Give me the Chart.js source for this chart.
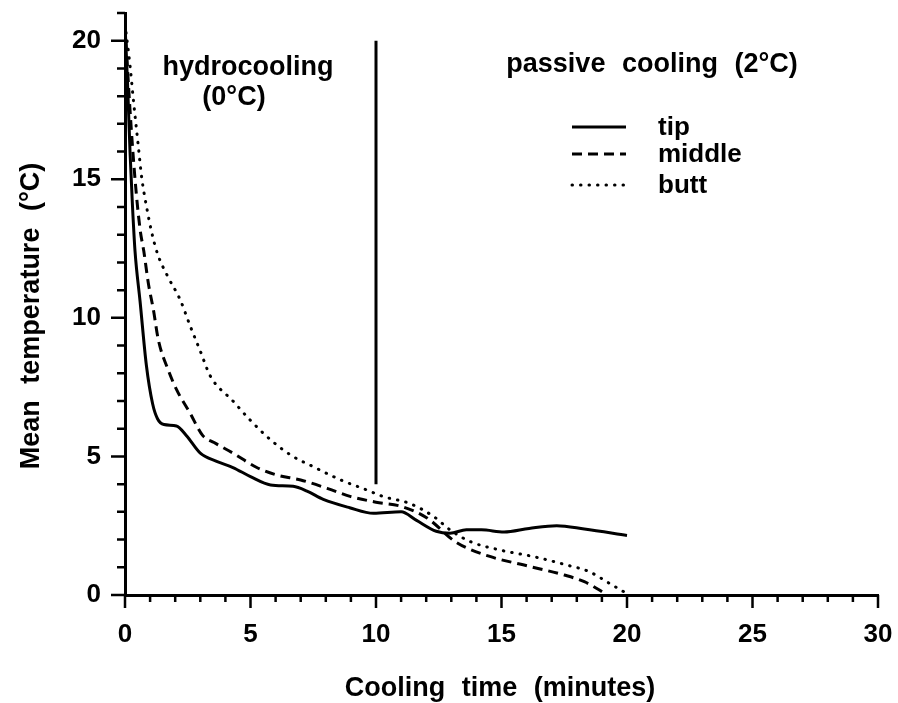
<!DOCTYPE html>
<html>
<head>
<meta charset="utf-8">
<script src="https://cdn.jsdelivr.net/npm/chart.js@4/dist/chart.umd.min.js"></script>
<style>
  html, body { margin: 0; padding: 0; background: #fff; }
  #wrap { width: 898px; height: 703px; }
</style>
</head>
<body>
<div id="wrap"><canvas id="coolChart" width="898" height="703"></canvas></div>
<script>
// Readings: cooling time (min) vs mean temperature (°C)
const tipTime = [0, 0.1, 0.2, 0.3, 0.4, 0.6, 0.85, 1.1, 1.3, 1.55, 2.05, 2.45, 3.0, 3.65, 4.3, 5.0, 5.8, 6.7, 7.25, 7.9, 8.95, 9.9, 11.0, 11.6, 12.4, 12.95, 13.6, 14.2, 15.1, 16.1, 17.2, 18.3, 20.0];
const tipTemp = [20.6, 18.5, 16.0, 14.0, 12.4, 10.6, 8.3, 6.9, 6.35, 6.15, 6.1, 5.75, 5.12, 4.82, 4.6, 4.27, 3.97, 3.92, 3.75, 3.45, 3.15, 2.95, 3.0, 2.7, 2.3, 2.23, 2.35, 2.35, 2.27, 2.4, 2.5, 2.38, 2.15];

const middleTime = [0, 0.2, 0.4, 0.6, 0.75, 0.93, 1.13, 1.33, 1.73, 2.06, 2.6, 3.1, 3.55, 4.3, 5.25, 6.05, 7.0, 8.05, 9.0, 10.0, 11.0, 12.0, 13.2, 14.5, 15.9, 17.5, 18.3, 18.9, 19.2];
const middleTemp = [20.6, 17.5, 15.0, 13.2, 12.4, 11.25, 10.3, 9.2, 8.1, 7.4, 6.55, 5.75, 5.5, 5.12, 4.6, 4.33, 4.15, 3.85, 3.55, 3.35, 3.2, 2.8, 1.9, 1.4, 1.08, 0.72, 0.48, 0.18, 0];

const buttTime = [0, 0.2, 0.33, 0.53, 0.66, 0.86, 1.06, 1.3, 1.7, 2.2, 2.6, 3.0, 3.4, 4.3, 5.0, 5.8, 6.6, 7.5, 8.6, 9.6, 10.3, 11.35, 12.3, 12.95, 13.75, 14.95, 16.3, 17.6, 18.5, 19.3, 20.0];
const buttTemp = [20.6, 19.1, 17.9, 16.2, 15.1, 14.0, 13.1, 12.3, 11.5, 10.65, 9.7, 8.8, 7.9, 7.0, 6.3, 5.6, 5.05, 4.63, 4.15, 3.8, 3.55, 3.3, 2.83, 2.35, 1.93, 1.62, 1.38, 1.08, 0.84, 0.42, 0.05];

// boundary between hydrocooling and passive cooling
const dividerTime = [10, 10];
const dividerTemp = [4, 20];

const seriesNames = ["tip", "middle", "butt"];
const seriesDash = [[], [10, 6], [0.5, 8]];

const xMin = 0, xMax = 30, xMajor = 5;
const yMin = 0, yMax = 21, yMajor = 5;

const FONT = "'Liberation Sans', Arial, sans-serif";

function toPoints(xs, ys) {
    return xs.map((x, i) => ({ x: x, y: ys[i] }));
}

function lineSet(label, xs, ys, dash) {
    return {
        label: label,
        data: toPoints(xs, ys),
        borderColor: "#000",
        borderWidth: 3,
        borderDash: dash,
        borderCapStyle: dash.length && dash[0] < 4 ? "round" : "butt",
        pointRadius: 0,
        fill: false,
        cubicInterpolationMode: "monotone"
    };
}

// fix the plot box: no extra room for tick label overhang
function fixBox(size) {
    return s => {
        if (s.isHorizontal()) s.height = size; else s.width = size;
        s.paddingLeft = 0; s.paddingRight = 0;
        s.paddingTop = 0; s.paddingBottom = 0;
    };
}

// tick marks (minor every unit, long at majors) + all free text
const decorPlugin = {
    id: "decor",
    afterDraw(chart) {
        const ctx = chart.ctx;
        const xs = chart.scales.x, ys = chart.scales.y;
        const area = chart.chartArea;
        ctx.save();
        ctx.strokeStyle = "#000";
        ctx.lineWidth = 2.5;
        ctx.beginPath();
        for (let v = xMin; v <= xMax; v++) {
            const px = xs.getPixelForValue(v);
            const len = v % xMajor === 0 ? 13 : 7;
            ctx.moveTo(px, area.bottom);
            ctx.lineTo(px, area.bottom + len);
        }
        for (let v = yMin; v <= yMax; v++) {
            const py = ys.getPixelForValue(v);
            const len = v % yMajor === 0 ? 14 : 8;
            ctx.moveTo(area.left, py);
            ctx.lineTo(area.left - len, py);
        }
        ctx.stroke();

        ctx.fillStyle = "#000";
        ctx.font = "bold 27px " + FONT;
        ctx.textAlign = "center";
        ctx.textBaseline = "alphabetic";
        ctx.wordSpacing = "0px";
        ctx.fillText("hydrocooling", 248, 75);
        ctx.fillText("(0°C)", 234, 105);
        ctx.wordSpacing = "9px";
        ctx.fillText("passive cooling (2°C)", 652, 72);

        // legend
        const rowY = [127, 154, 185];
        ctx.font = "bold 26px " + FONT;
        ctx.textAlign = "left";
        chart.data.datasets.slice(0, 3).forEach((ds, i) => {
            ctx.save();
            ctx.lineWidth = 3;
            ctx.setLineDash(ds.borderDash);
            ctx.lineCap = ds.borderCapStyle;
            ctx.beginPath();
            ctx.moveTo(572, rowY[i]);
            ctx.lineTo(626, rowY[i]);
            ctx.stroke();
            ctx.restore();
            ctx.fillText(ds.label, 658, rowY[i] + 8);
        });

        // axis titles
        ctx.font = "bold 27px " + FONT;
        ctx.textAlign = "center";
        ctx.wordSpacing = "9px";
        ctx.fillText("Cooling time (minutes)", 500, 696);
        ctx.translate(32, 316);
        ctx.rotate(-Math.PI / 2);
        ctx.textBaseline = "middle";
        ctx.fillText("Mean temperature (°C)", 0, 0);
        ctx.restore();
    }
};

const datasets = [
    lineSet(seriesNames[0], tipTime, tipTemp, seriesDash[0]),
    lineSet(seriesNames[1], middleTime, middleTemp, seriesDash[1]),
    lineSet(seriesNames[2], buttTime, buttTemp, seriesDash[2]),
    lineSet("divider", dividerTime, dividerTemp, [])
];

new Chart(document.getElementById("coolChart"), {
    type: "line",
    data: { datasets: datasets },
    options: {
        responsive: false,
        animation: false,
        layout: { padding: { top: 13, right: 20, left: 0, bottom: 0 } },
        plugins: { legend: { display: false }, tooltip: { enabled: false } },
        scales: {
            x: {
                type: "linear",
                min: xMin, max: xMax,
                grid: { display: false, drawTicks: false },
                border: { display: true, color: "#000", width: 3 },
                ticks: {
                    stepSize: 1,
                    autoSkip: false,
                    color: "#000",
                    padding: 24,
                    maxRotation: 0,
                    font: { family: FONT, size: 26, weight: "bold" },
                    callback: v => (v % xMajor === 0 ? String(v) : null)
                },
                afterFit: fixBox(108)
            },
            y: {
                type: "linear",
                min: yMin, max: yMax,
                grid: { display: false, drawTicks: false },
                border: { display: true, color: "#000", width: 3 },
                ticks: {
                    stepSize: 1,
                    autoSkip: false,
                    color: "#000",
                    padding: 24,
                    font: { family: FONT, size: 26, weight: "bold" },
                    callback: v => (v % yMajor === 0 ? String(v) : null)
                },
                afterFit: fixBox(125)
            }
        }
    },
    plugins: [decorPlugin]
});
</script>
</body>
</html>
